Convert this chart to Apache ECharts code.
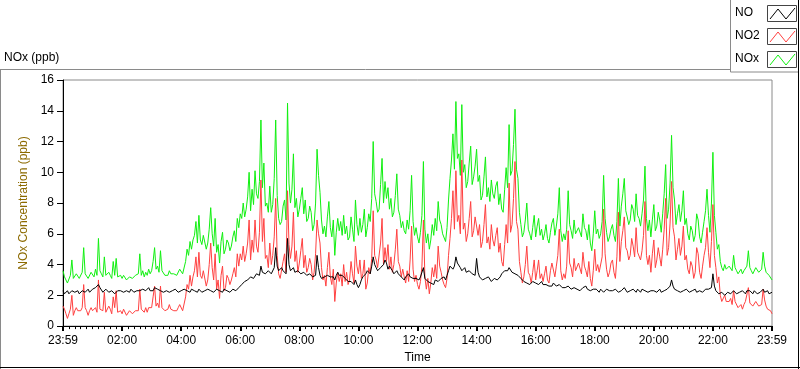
<!DOCTYPE html>
<html><head><meta charset="utf-8">
<script src="https://cdn.jsdelivr.net/npm/echarts@6/dist/echarts.min.js"></script>
<style>html,body{margin:0;padding:0;background:#fff}#c{width:800px;height:369px}</style>
</head><body><div id="c"></div>
<script>
// sample interval (minutes) between readings, starting at 23:59 of the previous day
var stepMin = 3;
var xTickLabels = ['23:59','02:00','04:00','06:00','08:00','10:00','12:00','14:00','16:00','18:00','20:00','22:00','23:59'];
var seriesNames = ['NO','NO2','NOx'];

// one row per hour (20 readings, 3 min apart)
var noxValues = [
3.6,3.2,3.0,2.8,2.9,3.3,4.3,3.1,3.2,3.4,3.3,3.1,3.2,3.5,5.1,3.4,3.3,3.1,3.2,3.5,
3.4,3.2,3.7,3.3,5.7,3.6,3.4,3.2,4.5,3.3,3.3,3.5,3.3,3.1,4.2,3.3,4.4,3.2,3.2,3.3,
3.1,3.3,3.2,3.0,3.0,3.2,3.3,3.1,3.1,3.3,3.2,3.4,4.7,3.3,3.6,3.2,3.5,3.3,3.7,3.4,
3.6,4.2,5.1,3.7,3.9,3.5,4.9,3.6,3.5,3.3,3.4,3.3,3.6,3.4,3.3,3.4,3.5,3.3,3.4,3.7,
3.6,3.4,3.5,4.2,5.0,4.6,5.5,5.0,5.6,5.9,6.8,5.4,7.2,5.6,5.3,5.9,6.0,5.0,5.4,6.3,
7.7,6.0,5.2,7.0,4.8,5.3,4.1,5.5,6.1,4.7,5.0,5.6,5.4,4.9,5.2,5.8,6.2,5.5,7.0,6.4,
7.3,7.0,8.0,7.1,7.6,8.4,10.0,7.5,8.9,7.9,10.1,8.6,8.3,9.4,13.4,9.0,10.6,7.8,8.0,7.4,
9.1,7.4,7.9,9.6,13.4,8.5,7.0,6.6,6.8,7.8,8.2,6.9,14.5,9.3,8.0,8.9,11.2,7.7,8.3,7.1,
7.6,8.3,9.0,7.3,8.2,6.8,7.0,7.8,7.4,6.2,6.6,8.0,11.5,9.8,8.7,6.9,6.0,6.5,5.8,7.1,
8.1,6.4,5.8,6.9,4.6,6.1,7.0,6.2,6.8,5.9,7.2,6.0,6.5,5.6,5.8,7.1,6.3,5.5,8.2,6.6,
5.9,7.0,6.1,6.6,7.6,5.8,6.4,7.3,6.8,8.3,12.0,8.6,8.1,7.4,7.6,9.2,10.9,8.0,9.4,8.3,
9.0,7.6,8.3,7.1,7.4,8.5,9.9,7.6,7.2,6.4,6.8,6.2,6.0,6.9,6.3,7.5,9.8,6.8,5.9,6.4,
5.8,5.4,6.1,7.2,10.7,6.3,5.4,6.0,5.0,5.6,6.6,5.9,7.0,6.2,8.1,6.9,6.6,6.0,5.9,5.5,
6.4,8.2,9.6,10.8,12.5,10.2,14.6,10.9,11.2,9.8,14.4,10.0,10.5,9.0,9.4,10.6,11.7,9.2,9.7,10.4,
11.5,9.4,9.8,8.2,8.5,9.7,11.0,8.4,9.0,8.1,9.5,8.6,8.3,9.1,9.4,7.9,8.6,7.6,7.4,8.9,
10.3,9.0,13.1,9.8,10.1,11.8,14.1,10.2,9.6,7.4,6.6,5.8,6.1,6.9,8.0,6.3,6.0,5.6,6.4,7.2,
5.8,6.5,7.0,5.9,6.3,5.6,6.0,6.6,5.7,5.4,6.1,6.7,7.0,5.9,6.5,7.3,9.0,6.2,5.5,6.0,
5.6,6.3,8.8,6.6,6.2,5.7,6.9,6.0,6.0,6.4,6.5,5.8,7.3,6.4,6.2,5.6,6.6,5.4,4.9,6.0,
7.5,6.0,6.3,5.7,6.0,6.8,9.8,7.0,6.1,5.5,5.8,6.3,6.6,5.9,5.5,6.8,9.6,6.5,7.8,8.6,
9.6,7.5,7.1,6.6,6.9,7.9,7.6,6.8,8.6,7.2,7.0,6.5,7.3,8.2,10.4,7.0,6.2,6.9,5.8,6.9,
7.9,6.2,6.5,7.4,6.9,6.1,7.3,8.6,10.5,7.0,7.6,9.3,12.4,9.0,8.2,6.6,7.3,7.9,6.8,7.5,
8.8,6.6,7.0,6.0,5.6,6.5,6.2,5.5,5.9,7.3,6.9,5.8,5.4,6.1,6.8,7.5,8.9,7.2,6.1,8.0,
11.3,7.2,6.1,5.0,5.3,4.2,3.8,3.6,4.0,3.7,3.7,3.9,3.9,3.6,4.6,3.8,3.6,3.4,3.5,3.7,
3.4,3.6,3.7,3.9,4.9,3.8,3.6,3.4,3.5,3.8,3.7,3.5,3.5,3.7,4.8,3.9,3.5,3.4,3.3,3.2,
3.0];

var noValues = [
2.3,2.1,2.2,2.3,2.1,2.2,2.3,2.4,2.2,2.2,2.3,2.1,2.2,2.3,2.4,2.2,2.3,2.4,2.2,2.3,
2.4,2.3,2.5,2.4,2.7,2.5,2.4,2.2,2.3,2.4,2.3,2.2,2.2,2.3,2.3,2.1,2.1,2.3,2.2,2.3,
2.3,2.2,2.2,2.3,2.3,2.2,2.4,2.3,2.2,2.3,2.3,2.4,2.3,2.2,2.4,2.3,2.3,2.4,2.5,2.3,
2.4,2.3,2.5,2.4,2.4,2.3,2.3,2.4,2.2,2.3,2.3,2.2,2.2,2.3,2.3,2.4,2.4,2.3,2.2,2.3,
2.3,2.4,2.4,2.3,2.3,2.2,2.2,2.4,2.4,2.3,2.3,2.2,2.4,2.3,2.2,2.3,2.3,2.4,2.4,2.3,
2.3,2.2,2.2,2.3,2.4,2.3,2.3,2.2,2.2,2.4,2.5,2.3,2.3,2.2,2.2,2.4,2.4,2.3,2.3,2.5,
2.6,2.7,2.8,2.9,2.9,3.0,3.1,3.2,3.3,3.1,3.2,3.4,3.5,3.3,3.9,3.5,3.6,3.4,3.4,3.6,
3.7,3.4,3.3,3.8,5.1,3.9,3.6,3.5,3.8,3.6,3.5,3.4,5.7,4.0,3.6,3.7,3.8,3.5,3.4,3.6,
3.5,3.4,3.3,3.5,3.6,3.3,3.2,3.4,3.4,3.2,3.1,3.3,4.6,3.8,3.3,3.1,3.0,3.2,3.2,3.3,
3.3,3.2,3.1,3.2,3.0,3.3,3.5,3.3,3.4,3.3,3.2,3.1,3.0,2.9,2.8,2.9,2.9,2.7,3.0,2.7,
2.5,2.7,3.0,3.2,3.3,3.4,3.6,3.5,3.4,3.9,4.5,4.0,3.8,3.6,3.7,3.8,3.9,4.0,4.3,4.1,
3.7,3.9,3.8,3.6,3.4,3.5,3.6,3.4,3.3,3.2,3.1,3.0,3.2,3.3,3.4,3.2,3.3,3.1,3.0,3.1,
3.1,3.0,3.2,3.3,3.8,3.1,3.0,2.9,2.9,2.8,2.8,2.7,3.0,3.1,2.9,3.0,3.1,3.0,3.2,3.0,
3.3,3.6,3.9,3.8,3.7,3.9,4.5,4.1,4.0,3.8,3.6,3.7,3.8,3.5,3.4,3.6,3.6,3.4,3.5,3.3,
4.4,3.5,3.2,3.1,3.0,3.1,3.1,3.0,3.2,3.1,2.9,3.0,3.1,3.2,3.0,3.1,3.2,3.4,3.5,3.6,
3.7,3.6,3.8,3.7,3.5,3.5,3.4,3.4,3.3,3.2,3.1,3.0,2.9,2.9,2.8,2.8,2.7,2.8,2.9,2.9,
2.8,2.9,2.7,2.8,2.9,2.7,2.6,2.7,2.7,2.6,2.5,2.6,2.8,2.7,2.6,2.7,2.7,2.6,2.5,2.6,
2.5,2.4,2.6,2.5,2.4,2.5,2.5,2.4,2.4,2.3,2.3,2.4,2.5,2.5,2.6,2.4,2.4,2.3,2.3,2.4,
2.5,2.4,2.3,2.2,2.4,2.3,2.2,2.3,2.4,2.3,2.3,2.2,2.3,2.4,2.4,2.3,2.2,2.3,2.3,2.4,
2.5,2.4,2.2,2.3,2.3,2.2,2.4,2.3,2.2,2.4,2.3,2.2,2.4,2.3,2.3,2.4,2.2,2.3,2.3,2.2,
2.3,2.4,2.2,2.3,2.4,2.2,2.3,2.3,2.2,2.4,2.5,2.6,3.0,2.6,2.4,2.3,2.3,2.2,2.2,2.3,
2.3,2.3,2.4,2.3,2.2,2.3,2.3,2.4,2.4,2.2,2.2,2.3,2.3,2.2,2.2,2.4,2.5,2.4,2.3,2.5,
3.4,2.6,2.3,2.2,2.1,2.2,2.2,2.1,2.0,2.1,2.2,2.3,2.1,2.2,2.3,2.2,2.1,2.2,2.2,2.3,
2.3,2.2,2.1,2.3,2.4,2.3,2.2,2.1,2.3,2.2,2.1,2.2,2.2,2.3,2.4,2.2,2.2,2.3,2.1,2.2,
2.2];

var no2Values = [
1.3,1.1,0.8,0.5,0.8,1.1,2.0,0.7,1.0,1.2,1.0,1.0,1.0,1.2,2.7,1.2,1.0,0.7,1.0,1.2,
1.0,0.9,1.2,0.9,3.0,1.1,1.0,1.0,2.2,0.9,1.0,1.3,1.1,0.8,1.9,1.2,2.3,0.9,1.0,1.0,
0.8,1.1,1.0,0.7,0.7,1.0,0.9,0.8,0.9,1.0,0.9,1.0,2.4,1.1,1.2,0.9,1.2,0.9,1.2,1.1,
1.2,1.9,2.6,1.3,1.5,1.2,2.6,1.2,1.3,1.0,1.1,1.1,1.4,1.1,1.0,1.0,1.1,1.0,1.2,1.4,
1.3,1.0,1.1,1.9,2.7,2.4,3.3,2.6,3.2,3.6,4.5,3.2,4.8,3.3,3.1,3.6,3.7,2.6,3.0,4.0,
5.4,3.8,3.0,4.7,2.4,3.0,1.8,3.3,3.9,2.3,2.5,3.3,3.1,2.7,3.0,3.4,3.8,3.2,4.7,3.9,
4.7,4.3,5.2,4.2,4.7,5.4,6.9,4.3,5.6,4.8,6.9,5.2,4.8,6.1,9.5,5.5,7.0,4.4,4.6,3.8,
5.4,4.0,4.6,5.8,8.3,4.6,3.4,3.1,3.0,4.2,4.7,3.5,8.8,5.3,4.4,5.2,7.4,4.2,4.9,3.5,
4.1,4.9,5.7,3.8,4.6,3.5,3.8,4.4,4.0,3.0,3.5,4.7,6.9,6.0,5.4,3.8,3.0,3.3,2.6,3.8,
4.8,3.2,2.7,3.7,1.6,2.8,3.5,2.9,3.4,2.6,4.0,2.9,3.5,2.7,3.0,4.2,3.4,2.8,5.2,3.9,
3.4,4.3,3.1,3.4,4.3,2.4,2.8,3.8,3.4,4.4,7.5,4.6,4.3,3.8,3.9,5.4,7.0,4.0,5.1,4.2,
5.3,3.7,4.5,3.5,4.0,5.0,6.3,4.2,3.9,3.2,3.7,3.2,2.8,3.6,2.9,4.3,6.5,3.7,2.9,3.3,
2.7,2.4,2.9,3.9,6.9,3.2,2.4,3.1,2.1,2.8,3.8,3.2,4.0,3.1,5.2,3.9,3.5,3.0,2.7,2.5,
3.1,4.6,5.7,7.0,8.8,6.3,10.1,6.8,7.2,6.0,10.8,6.3,6.7,5.5,6.0,7.0,8.1,5.8,6.2,7.1,
7.1,5.9,6.6,5.1,5.5,6.6,7.9,5.4,5.8,5.0,6.6,5.6,5.2,5.9,6.4,4.8,5.4,4.2,3.9,5.3,
6.6,5.4,9.3,6.1,6.6,8.3,10.7,6.8,6.3,4.2,3.5,2.8,3.2,4.0,5.2,3.5,3.3,2.8,3.5,4.3,
3.0,3.6,4.3,3.1,3.4,2.9,3.4,3.9,3.0,2.8,3.6,4.1,4.2,3.2,3.9,4.6,6.3,3.6,3.0,3.4,
3.1,3.9,6.2,4.1,3.8,3.2,4.4,3.6,3.6,4.1,4.2,3.4,4.8,3.9,3.6,3.2,4.2,3.1,2.6,3.6,
5.0,3.6,4.0,3.5,3.6,4.5,7.6,4.7,3.7,3.2,3.5,4.1,4.3,3.5,3.1,4.5,7.4,4.2,5.5,6.2,
7.1,5.1,4.9,4.3,4.6,5.7,5.2,4.5,6.4,4.8,4.7,4.3,4.9,5.9,8.1,4.6,4.0,4.6,3.5,4.7,
5.6,3.8,4.3,5.1,4.5,3.9,5.0,6.3,8.3,4.6,5.1,6.7,9.4,6.4,5.8,4.3,5.0,5.7,4.6,5.2,
6.5,4.3,4.6,3.7,3.4,4.2,3.9,3.1,3.5,5.1,4.7,3.5,3.1,3.9,4.6,5.1,6.4,4.8,3.8,5.5,
7.9,4.6,3.8,2.8,3.2,2.0,1.6,1.5,2.0,1.6,1.5,1.6,1.8,1.4,2.3,1.6,1.5,1.2,1.3,1.4,
1.1,1.4,1.6,1.6,2.5,1.5,1.4,1.3,1.2,1.6,1.6,1.3,1.3,1.4,2.4,1.7,1.3,1.1,1.2,1.0,
0.8];

var colors = {NO:'#000000', NO2:'#ff4040', NOx:'#10f010'};
function pairs(arr){ return arr.map(function(v,i){ return [i*stepMin, v]; }); }

var FONT = 'Liberation Sans';
var chart = echarts.init(document.getElementById('c'), null, {renderer:'canvas'});

function legendItem(name, y0){
  var c = colors[name];
  return [
    {type:'text', left:735, top:y0+2, style:{text:name, font:'12px "'+FONT+'"', fill:'#000'}},
    {type:'rect', shape:{x:767.5, y:y0+0.5, width:29, height:16}, style:{fill:'#fff', stroke:'#444', lineWidth:1}},
    {type:'polyline', shape:{points:[[770,y0+14],[778,y0+4],[786,y0+14],[795,y0+3]]}, style:{stroke:c, lineWidth:1, fill:null}}
  ];
}

var graphics = [
  {type:'line', shape:{x1:0, y1:69.5, x2:731, y2:69.5}, style:{stroke:'#8a8a8a', lineWidth:1}},
  {type:'line', shape:{x1:0.5, y1:69, x2:0.5, y2:369}, style:{stroke:'#8a8a8a', lineWidth:1}},
  {type:'line', shape:{x1:0, y1:367.5, x2:800, y2:367.5}, style:{stroke:'#000', lineWidth:1}},
  {type:'line', shape:{x1:798.5, y1:0, x2:798.5, y2:369}, style:{stroke:'#000', lineWidth:1}},
  {type:'rect', shape:{x:730.5, y:-1, width:68, height:73}, style:{fill:'#fff', stroke:'#8a8a8a', lineWidth:1}},
  {type:'line', shape:{x1:798.5, y1:0, x2:798.5, y2:73}, style:{stroke:'#000', lineWidth:1}},
  {type:'text', left:4, top:52, style:{text:'NOx (ppb)', font:'12px "'+FONT+'"', fill:'#000'}}
];
graphics = graphics.concat(legendItem('NO',5), legendItem('NO2',28), legendItem('NOx',51));

var option = {
  animation:false,
  backgroundColor:'#fff',
  grid:{left:63, right:28, top:80, bottom:40, show:true, borderColor:'#8a8a8a', borderWidth:1, backgroundColor:'#fff'},
  xAxis:[{
    type:'value', min:0, max:1440, interval:120,
    name:'Time', nameLocation:'middle', nameGap:25,
    nameTextStyle:{color:'#000', fontSize:12, fontFamily:FONT},
    axisLine:{show:true, onZero:false, lineStyle:{color:'#000', width:1}},
    axisTick:{show:true, length:5, lineStyle:{color:'#000', width:2}},
    minorTick:{show:true, splitNumber:10, length:3, lineStyle:{color:'#000', width:1}},
    splitLine:{show:false},
    axisLabel:{margin:9, color:'#000', fontSize:12, fontFamily:FONT,
      formatter:function(v){ return xTickLabels[Math.round(v/120)]; }}
  },{
    type:'value', position:'top', min:0, max:1440,
    axisLine:{show:true, lineStyle:{color:'#000', width:1}},
    axisTick:{show:false}, axisLabel:{show:false}, splitLine:{show:false}
  }],
  yAxis:{
    type:'value', min:0, max:16, interval:2,
    name:'NOx Concentration (ppb)', nameLocation:'middle', nameGap:26, nameRotate:90,
    nameTextStyle:{color:'#8c6a00', fontSize:12, fontFamily:FONT},
    axisLine:{show:true, lineStyle:{color:'#000', width:1}},
    axisTick:{show:true, length:6, lineStyle:{color:'#000'}},
    splitLine:{show:false},
    axisLabel:{margin:9, color:'#000', fontSize:12, fontFamily:FONT}
  },
  series:[
    {name:'NOx', type:'line', data:pairs(noxValues), showSymbol:false, lineStyle:{color:colors.NOx, width:1}, z:2},
    {name:'NO2', type:'line', data:pairs(no2Values), showSymbol:false, lineStyle:{color:colors.NO2, width:1}, z:3},
    {name:'NO', type:'line', data:pairs(noValues), showSymbol:false, lineStyle:{color:colors.NO, width:1}, z:4}
  ],
  graphic:graphics
};
chart.setOption(option);
</script></body></html>
